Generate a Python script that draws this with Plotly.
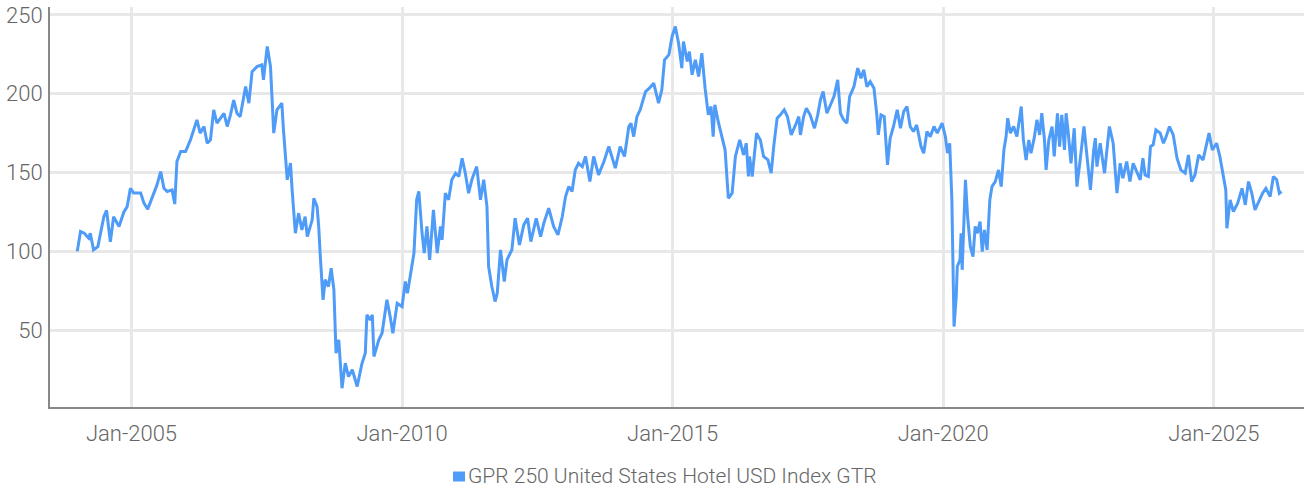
import plotly.graph_objects as go
import pandas as pd

# Decimal-year positions and index values
years = [
    2004.00, 2004.06, 2004.13, 2004.21, 2004.24, 2004.30, 2004.38, 2004.43, 2004.49, 2004.54,
    2004.61, 2004.67, 2004.77, 2004.86, 2004.92, 2004.98, 2005.04, 2005.17, 2005.23, 2005.30,
    2005.38, 2005.47, 2005.54, 2005.60, 2005.66, 2005.75, 2005.80, 2005.84, 2005.91, 2006.00,
    2006.09, 2006.21, 2006.27, 2006.34, 2006.40, 2006.46, 2006.52, 2006.58, 2006.71, 2006.77,
    2006.83, 2006.89, 2006.95, 2007.01, 2007.11, 2007.17, 2007.23, 2007.32, 2007.41, 2007.44,
    2007.51, 2007.57, 2007.63, 2007.69, 2007.78, 2007.81, 2007.88, 2007.94, 2007.97, 2008.03,
    2008.09, 2008.15, 2008.21, 2008.25, 2008.34, 2008.37, 2008.43, 2008.46, 2008.49, 2008.54,
    2008.58, 2008.64, 2008.69, 2008.74, 2008.78, 2008.83, 2008.89, 2008.95, 2009.01, 2009.08,
    2009.17, 2009.26, 2009.32, 2009.35, 2009.41, 2009.45, 2009.48, 2009.57, 2009.63, 2009.72,
    2009.78, 2009.83, 2009.91, 2010.00, 2010.06, 2010.10, 2010.15, 2010.22, 2010.27, 2010.31,
    2010.37, 2010.41, 2010.46, 2010.51, 2010.58, 2010.65, 2010.71, 2010.74, 2010.80, 2010.86,
    2010.92, 2010.99, 2011.05, 2011.11, 2011.17, 2011.23, 2011.29, 2011.38, 2011.45, 2011.51,
    2011.57, 2011.60, 2011.66, 2011.72, 2011.76, 2011.82, 2011.89, 2011.94, 2012.03, 2012.09,
    2012.17, 2012.25, 2012.32, 2012.38, 2012.48, 2012.56, 2012.62, 2012.71, 2012.80, 2012.88,
    2012.96, 2013.02, 2013.08, 2013.14, 2013.20, 2013.26, 2013.33, 2013.39, 2013.47, 2013.54,
    2013.63, 2013.73, 2013.82, 2013.88, 2013.94, 2014.03, 2014.11, 2014.19, 2014.23, 2014.28,
    2014.34, 2014.40, 2014.50, 2014.57, 2014.65, 2014.74, 2014.80, 2014.85, 2014.93, 2014.99,
    2015.05, 2015.11, 2015.17, 2015.20, 2015.27, 2015.31, 2015.36, 2015.42, 2015.48, 2015.54,
    2015.60, 2015.66, 2015.71, 2015.75, 2015.78, 2015.85, 2015.91, 2015.97, 2016.03, 2016.10,
    2016.16, 2016.24, 2016.31, 2016.36, 2016.40, 2016.42, 2016.47, 2016.55, 2016.62, 2016.68,
    2016.76, 2016.82, 2016.87, 2016.93, 2016.99, 2017.06, 2017.12, 2017.19, 2017.27, 2017.33,
    2017.36, 2017.42, 2017.47, 2017.54, 2017.62, 2017.68, 2017.73, 2017.78, 2017.85, 2017.91,
    2017.98, 2018.05, 2018.10, 2018.16, 2018.22, 2018.27, 2018.35, 2018.42, 2018.48, 2018.53,
    2018.59, 2018.65, 2018.72, 2018.77, 2018.80, 2018.85, 2018.91, 2018.97, 2019.02, 2019.08,
    2019.15, 2019.21, 2019.27, 2019.33, 2019.39, 2019.45, 2019.51, 2019.59, 2019.64, 2019.70,
    2019.76, 2019.83, 2019.89, 2019.98, 2020.04, 2020.08, 2020.12, 2020.16, 2020.18, 2020.20,
    2020.24, 2020.26, 2020.31, 2020.33, 2020.35, 2020.41, 2020.45, 2020.50, 2020.55, 2020.59,
    2020.63, 2020.68, 2020.72, 2020.76, 2020.81, 2020.86, 2020.90, 2020.96, 2021.02, 2021.07,
    2021.12, 2021.16, 2021.19, 2021.24, 2021.30, 2021.36, 2021.41, 2021.44, 2021.48, 2021.53,
    2021.58, 2021.62, 2021.68, 2021.73, 2021.78, 2021.82, 2021.87, 2021.90, 2021.95, 2022.01,
    2022.05, 2022.11, 2022.15, 2022.19, 2022.24, 2022.27, 2022.31, 2022.36, 2022.42, 2022.47,
    2022.53, 2022.60, 2022.65, 2022.72, 2022.78, 2022.81, 2022.84, 2022.90, 2022.98, 2023.03,
    2023.07, 2023.14, 2023.18, 2023.21, 2023.27, 2023.32, 2023.39, 2023.45, 2023.51, 2023.58,
    2023.64, 2023.69, 2023.73, 2023.79, 2023.83, 2023.88, 2023.93, 2024.01, 2024.07, 2024.12,
    2024.18, 2024.25, 2024.32, 2024.39, 2024.47, 2024.53, 2024.59, 2024.65, 2024.72, 2024.80,
    2024.86, 2024.91, 2024.97, 2025.05, 2025.11, 2025.17, 2025.22, 2025.24, 2025.30, 2025.36,
    2025.44, 2025.52, 2025.58, 2025.64, 2025.70, 2025.76, 2025.82, 2025.90, 2025.96, 2026.04,
    2026.10, 2026.16, 2026.21, 2026.25,
]

index_values = [
    100.0, 112.6, 111.5, 108.4, 111.5, 101.0, 103.0, 111.5, 122.0, 126.0,
    106.0, 122.0, 115.8, 125.0, 128.4, 140.0, 137.0, 137.0, 130.6, 126.8,
    133.7, 142.0, 150.6, 140.0, 138.0, 139.0, 130.0, 157.0, 163.3, 163.3,
    170.7, 183.4, 175.0, 179.2, 168.6, 170.7, 189.8, 181.3, 187.6, 179.2,
    186.6, 196.0, 187.6, 185.5, 204.5, 194.0, 214.0, 217.2, 218.3, 208.8,
    230.0, 217.2, 175.0, 189.8, 194.0, 177.0, 145.4, 156.0, 139.0, 111.5,
    124.2, 113.6, 122.0, 109.4, 120.0, 133.7, 128.4, 115.8, 96.7, 69.3,
    82.0, 77.7, 89.3, 75.6, 35.4, 43.9, 13.2, 29.1, 20.6, 24.9,
    14.3, 29.1, 35.4, 59.7, 56.6, 59.7, 33.3, 43.9, 48.1, 69.3,
    58.7, 48.1, 67.1, 65.0, 80.9, 73.5, 84.0, 98.9, 132.7, 138.0,
    111.5, 98.9, 115.8, 94.6, 126.3, 98.9, 115.8, 107.3, 136.9, 132.7,
    145.4, 149.6, 147.5, 159.1, 149.6, 136.9, 145.4, 153.8, 132.7, 145.4,
    128.4, 90.4, 77.7, 68.2, 73.5, 101.0, 80.9, 94.6, 101.0, 121.0,
    104.1, 116.8, 121.0, 106.2, 121.0, 109.4, 117.9, 127.4, 115.8, 110.5,
    122.1, 134.8, 141.1, 138.0, 151.7, 155.9, 153.8, 160.2, 144.3, 160.2,
    148.5, 157.0, 166.5, 160.2, 152.8, 166.5, 160.2, 179.2, 181.3, 172.8,
    185.5, 189.8, 201.4, 203.5, 206.7, 194.0, 202.4, 221.5, 224.6, 236.3,
    242.6, 232.0, 216.2, 233.1, 220.4, 226.7, 212.0, 221.5, 210.9, 225.7,
    203.5, 186.6, 191.9, 172.8, 192.9, 181.3, 172.8, 164.4, 133.7, 136.9,
    160.2, 170.7, 161.2, 168.6, 147.5, 160.2, 147.5, 175.0, 170.7, 160.2,
    158.0, 149.6, 167.6, 184.5, 186.6, 189.8, 185.5, 173.9, 180.2, 185.5,
    173.9, 185.5, 190.8, 186.6, 178.1, 186.6, 196.1, 201.4, 187.6, 192.9,
    198.2, 208.8, 187.6, 183.4, 181.3, 198.2, 204.5, 216.2, 209.8, 215.1,
    204.5, 207.7, 203.5, 187.6, 173.9, 186.6, 185.5, 154.9, 171.8, 179.2,
    189.8, 178.1, 188.7, 191.9, 179.2, 176.0, 180.2, 166.5, 162.3, 176.0,
    172.8, 179.2, 175.0, 181.3, 172.8, 162.3, 168.6, 132.7, 86.2, 52.3,
    71.4, 90.4, 94.6, 111.5, 88.3, 145.4, 122.1, 103.1, 96.7, 115.8,
    111.5, 118.9, 99.9, 113.6, 101.0, 132.7, 141.1, 144.3, 151.7, 141.1,
    164.4, 172.8, 184.5, 175.0, 179.2, 172.8, 184.5, 191.9, 170.7, 158.0,
    170.7, 162.3, 171.8, 183.4, 173.9, 187.6, 170.7, 151.7, 170.7, 179.2,
    160.2, 187.6, 166.5, 186.6, 164.4, 187.6, 175.0, 155.9, 178.1, 141.1,
    158.0, 179.2, 162.3, 139.0, 164.4, 171.8, 153.8, 168.6, 149.6, 164.4,
    179.2, 168.6, 149.6, 136.9, 155.9, 146.4, 157.0, 144.3, 155.9, 149.6,
    145.4, 159.1, 148.5, 147.5, 166.5, 167.6, 177.0, 175.0, 168.6, 172.8,
    179.2, 173.9, 159.1, 151.7, 149.6, 161.2, 144.3, 148.5, 161.2, 158.0,
    168.6, 175.0, 164.4, 168.6, 160.2, 149.6, 139.0, 114.7, 132.7, 125.3,
    130.6, 140.0, 129.5, 144.3, 136.9, 126.3, 130.6, 136.9, 140.0, 134.8,
    147.5, 145.4, 136.9, 138.0,
]

series_name = "GPR 250 United States Hotel USD Index GTR"
y_ticks = [50, 100, 150, 200, 250]
x_ticks = ["2005-01-01", "2010-01-01", "2015-01-01", "2020-01-01", "2025-01-01"]
x_tick_labels = ["Jan-2005", "Jan-2010", "Jan-2015", "Jan-2020", "Jan-2025"]


def to_date(y):
    yr = int(y)
    start = pd.Timestamp(year=yr, month=1, day=1)
    end = pd.Timestamp(year=yr + 1, month=1, day=1)
    return start + (end - start) * (y - yr)


dates = [to_date(y) for y in years]

LINE_COLOR = "#4f9bf8"
FONT = "Roboto, sans-serif"
TEXT_COLOR = "#666666"
tick_font = dict(family=FONT, size=22, color=TEXT_COLOR, weight=300)
legend_font = dict(family=FONT, size=21, color=TEXT_COLOR, weight=300)

fig = go.Figure()
fig.add_trace(go.Scatter(
    x=dates, y=index_values, mode="lines", name=series_name,
    line=dict(color=LINE_COLOR, width=3), showlegend=False,
))

fig.update_layout(
    width=1304, height=493,
    margin=dict(l=50, r=0, t=7, b=86, autoexpand=False),
    paper_bgcolor="white", plot_bgcolor="white",
    font=dict(family=FONT, color=TEXT_COLOR, size=22, weight=300),
    xaxis=dict(
        type="date", automargin=False,
        range=["2003-07-01", "2026-09-01"],
        tickvals=x_ticks, ticktext=x_tick_labels,
        showgrid=True, gridcolor="#e8e8e8", gridwidth=3,
        showline=True, linecolor="#888888", linewidth=2,
        ticks="", ticklabelstandoff=6,
        tickfont=tick_font,
        zeroline=False,
    ),
    yaxis=dict(
        automargin=False,
        range=[1.3, 255],
        tickvals=y_ticks,
        showgrid=True, gridcolor="#e8e8e8", gridwidth=3,
        showline=True, linecolor="#888888", linewidth=2,
        ticks="", ticklabelstandoff=1,
        tickfont=tick_font,
        zeroline=False,
    ),
    shapes=[dict(
        type="rect", xref="paper", yref="paper",
        x0=(453 - 50) / 1254, x1=(465 - 50) / 1254,
        y0=-(481.5 - 407) / 400, y1=-(471.5 - 407) / 400,
        fillcolor=LINE_COLOR, line=dict(width=0),
    )],
    annotations=[dict(
        text=series_name, xref="paper", yref="paper",
        x=(466 - 50) / 1254, y=-(476 - 407) / 400,
        xanchor="left", yanchor="middle", showarrow=False,
        font=legend_font,
    )],
)

fig.write_html(
    "out.html",
    config={"displayModeBar": False},
    post_script="document.body.style.margin='0';document.body.style.padding='0';",
)
